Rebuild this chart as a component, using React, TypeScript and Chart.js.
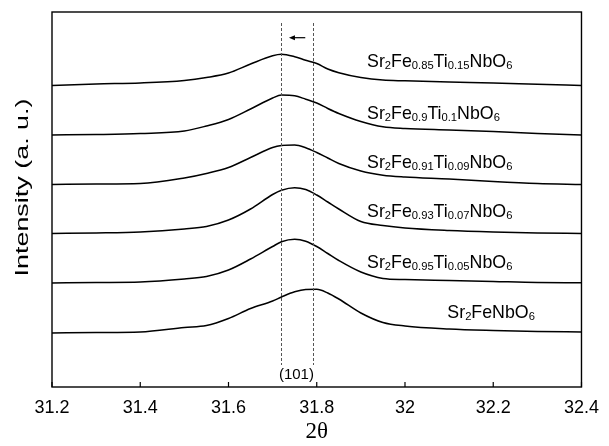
import React, { useEffect, useRef } from 'react';
import { Chart, registerables } from 'chart.js';

Chart.register(...registerables);

// 2θ sampling points (degrees)
const TWO_THETA = [31.2, 31.3, 31.4, 31.5, 31.55, 31.6, 31.65, 31.7, 31.72, 31.75, 31.775, 31.8, 31.825, 31.85, 31.9, 31.95, 32.0, 32.1, 32.2, 32.3, 32.4];

// Intensity profiles (baseline removed), bottom to top
const I_X000 = [0, 0.5, 1, 5.5, 7.5, 14.5, 24.5, 32, 36, 41.2, 43.5, 43.7, 40, 34, 20, 10.5, 7, 4, 2.5, 1.5, 1];
const I_X005 = [0, 0.5, 1, 4, 6.5, 13, 24, 36.5, 41.2, 43.7, 41.8, 36.5, 29.5, 22.5, 11, 4.6, 3.5, 2.5, 1.5, 0.5, 0.3];
const I_X007 = [0, 0.5, 1.5, 4.5, 7, 13.5, 24.5, 39, 43.3, 45.8, 44, 38.5, 31.5, 24.5, 12, 8, 5.5, 3, 1.5, 0.5, 0];
const I_X009 = [0, 0.5, 1, 6.5, 11, 17, 27, 37, 39, 39.5, 36.8, 32, 26.5, 21, 13.5, 9.3, 7.5, 5.5, 3, 1, 0];
const I_X010 = [0, 0.5, 1.5, 4, 9, 15.5, 26, 37, 40, 39.2, 35.8, 32, 26.5, 21.5, 13.5, 8.2, 6.5, 5, 3.5, 1.5, 0];
const I_X015 = [0, 1.5, 2.5, 5, 8, 12.5, 21.5, 29.7, 31.2, 28.8, 25.2, 22, 16.5, 12.8, 8, 5.4, 4.7, 3.5, 2.5, 1.2, 0];

const SERIES = [I_X000, I_X005, I_X007, I_X009, I_X010, I_X015];
const SERIES_NAMES = [
  'Sr2FeNbO6',
  'Sr2Fe0.95Ti0.05NbO6',
  'Sr2Fe0.93Ti0.07NbO6',
  'Sr2Fe0.91Ti0.09NbO6',
  'Sr2Fe0.9Ti0.1NbO6',
  'Sr2Fe0.85Ti0.15NbO6',
];
// vertical stacking offsets (a.u.)
const OFFSETS = [54, 104, 153.5, 202.5, 252, 301.5];

const X_TICKS = [31.2, 31.4, 31.6, 31.8, 32, 32.2, 32.4];
const Y_RANGE = [0, 375];

// annotations
const LABEL_X = [32.096, 31.914, 31.914, 31.914, 31.914, 31.914];
const LABEL_Y = [68.7, 118.7, 169.7, 218.7, 267.7, 320.3];
const PEAK_LINES = [31.72, 31.792];
const PEAK_LINE_Y = [22, 364];
const ARROW_X = [31.774, 31.737];
const ARROW_Y = 349.3;
const PEAK_LABEL = '(101)';
const PEAK_LABEL_X = 31.754;
const PEAK_LABEL_Y = 12;
const Y_TITLE = 'Intensity (a. u.)';
const X_TITLE = '2θ';

const SANS = '"Liberation Sans", Arial, sans-serif';

function drawFormula(ctx: CanvasRenderingContext2D, text: string, x: number, y: number, size: number) {
  const parts = text.match(/([0-9.]+)|([^0-9.]+)/g) || [];
  let cx = x;
  ctx.textAlign = 'left';
  ctx.textBaseline = 'alphabetic';
  for (const p of parts) {
    const sub = /^[0-9.]+$/.test(p);
    ctx.font = `${sub ? size * 0.63 : size}px ${SANS}`;
    ctx.fillText(p, cx, sub ? y + 2 : y);
    cx += ctx.measureText(p).width;
  }
}

const overlay = {
  id: 'overlay',
  afterDraw(chart: any) {
    const ctx: CanvasRenderingContext2D = chart.ctx;
    const xs = chart.scales.x;
    const ys = chart.scales.y;
    const { left, right, top, bottom } = chart.chartArea;
    ctx.save();
    ctx.strokeStyle = '#000';
    ctx.fillStyle = '#000';
    // frame
    ctx.lineWidth = 1.4;
    ctx.strokeRect(left, top, right - left, bottom - top);
    // inward ticks
    ctx.lineWidth = 1.2;
    for (const t of xs.ticks) {
      const px = xs.getPixelForValue(t.value);
      ctx.beginPath();
      ctx.moveTo(px, bottom);
      ctx.lineTo(px, bottom - 5);
      ctx.stroke();
    }
    // dashed peak lines
    ctx.strokeStyle = '#555';
    ctx.lineWidth = 1;
    ctx.setLineDash([3, 2]);
    for (const v of PEAK_LINES) {
      const px = Math.round(xs.getPixelForValue(v)) + 0.5;
      ctx.beginPath();
      ctx.moveTo(px, ys.getPixelForValue(PEAK_LINE_Y[1]));
      ctx.lineTo(px, ys.getPixelForValue(PEAK_LINE_Y[0]));
      ctx.stroke();
    }
    ctx.setLineDash([]);
    // arrow
    ctx.strokeStyle = '#000';
    const ax0 = xs.getPixelForValue(ARROW_X[0]);
    const ax1 = xs.getPixelForValue(ARROW_X[1]);
    const ay = ys.getPixelForValue(ARROW_Y);
    ctx.lineWidth = 1.2;
    ctx.beginPath();
    ctx.moveTo(ax0, ay);
    ctx.lineTo(ax1 + 4, ay);
    ctx.stroke();
    ctx.beginPath();
    ctx.moveTo(ax1, ay);
    ctx.lineTo(ax1 + 6, ay - 2.5);
    ctx.lineTo(ax1 + 6, ay + 2.5);
    ctx.closePath();
    ctx.fill();
    // (101)
    ctx.font = `15px ${SANS}`;
    ctx.textAlign = 'center';
    ctx.textBaseline = 'middle';
    ctx.fillText(PEAK_LABEL, xs.getPixelForValue(PEAK_LABEL_X), ys.getPixelForValue(PEAK_LABEL_Y));
    // formula labels
    SERIES_NAMES.forEach((name, i) => {
      drawFormula(ctx, name, xs.getPixelForValue(LABEL_X[i]), ys.getPixelForValue(LABEL_Y[i]), 17.8);
    });
    // y title
    ctx.save();
    ctx.translate(23, 187.5);
    ctx.rotate(-Math.PI / 2);
    ctx.font = `19px ${SANS}`;
    const w = ctx.measureText(Y_TITLE).width;
    ctx.scale(178 / w, 1);
    ctx.textAlign = 'center';
    ctx.textBaseline = 'middle';
    ctx.fillText(Y_TITLE, 0, 0);
    ctx.restore();
    ctx.restore();
  },
};

export default function App() {
  const ref = useRef<HTMLCanvasElement | null>(null);
  useEffect(() => {
    if (!ref.current) return;
    const chart = new Chart(ref.current, {
      type: 'line',
      data: {
        datasets: SERIES.map((s, i) => ({
          label: SERIES_NAMES[i],
          data: TWO_THETA.map((x, j) => ({ x, y: s[j] + OFFSETS[i] })),
          borderColor: '#000',
          borderWidth: 1.5,
          pointRadius: 0,
          cubicInterpolationMode: 'monotone',
          fill: false,
        })),
      },
      options: {
        animation: false,
        responsive: false,
        maintainAspectRatio: false,
        layout: { padding: { left: 52, right: 24, top: 12, bottom: 0 } },
        plugins: { legend: { display: false }, tooltip: { enabled: false } },
        scales: {
          x: {
            type: 'linear',
            min: X_TICKS[0],
            max: X_TICKS[X_TICKS.length - 1],
            afterBuildTicks: (s: any) => {
              s.ticks = X_TICKS.map((v) => ({ value: v }));
            },
            afterFit: (s: any) => {
              s.height = 59;
            },
            grid: { display: false, drawTicks: false },
            border: { display: false },
            ticks: {
              color: '#000',
              font: { family: SANS, size: 18 },
              padding: 10,
              maxRotation: 0,
              autoSkip: false,
              callback: (v: any) => String(v),
            },
            title: {
              display: true,
              text: X_TITLE,
              color: '#000',
              font: { family: '"Liberation Serif", "Times New Roman", serif', size: 23 },
              padding: { top: 0, bottom: 0 },
            },
          },
          y: { display: false, min: Y_RANGE[0], max: Y_RANGE[1] },
        },
      } as any,
      plugins: [overlay],
    });
    return () => chart.destroy();
  }, []);
  return (
    <div style={{ position: 'fixed', left: 0, top: 0, width: 609, height: 446, background: '#fff' }}>
      <canvas ref={ref} width={609} height={446} />
    </div>
  );
}
